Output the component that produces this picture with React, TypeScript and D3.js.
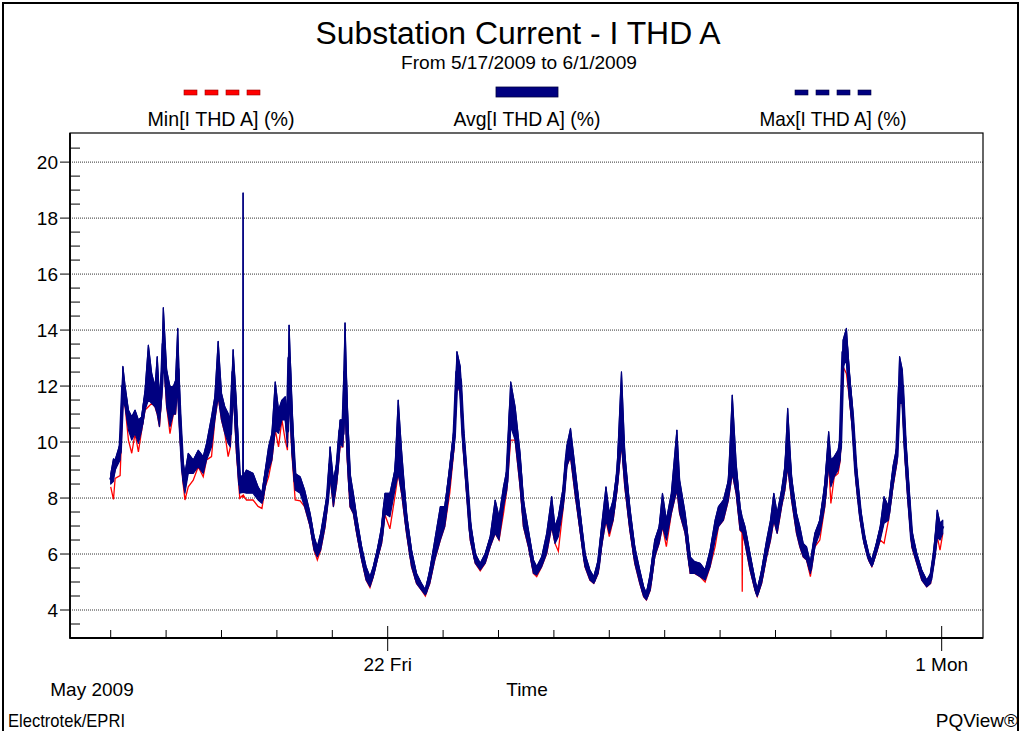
import React, { useEffect, useRef } from "react";
import * as d3 from "d3";

// days since 17 May 2009 00:00
const sampleDays = [
  0.00, 0.05, 0.08, 0.17, 0.22, 0.26, 0.32, 0.38, 0.44, 0.50, 0.56, 0.62,
  0.68, 0.74, 0.80, 0.84, 0.88, 0.92, 0.95, 1.01, 1.07, 1.13, 1.17, 1.21,
  1.25, 1.30, 1.34, 1.40, 1.49, 1.58, 1.67, 1.73, 1.82, 1.88, 1.94, 2.00,
  2.06, 2.12, 2.16, 2.21, 2.27, 2.33, 2.385, 2.39, 2.395, 2.45, 2.57, 2.66,
  2.73, 2.79, 2.85, 2.91, 2.97, 3.03, 3.09, 3.15, 3.19, 3.22, 3.27, 3.33,
  3.42, 3.50, 3.60, 3.67, 3.73, 3.79, 3.87, 3.91, 3.96, 4.02, 4.08, 4.14,
  4.19, 4.23, 4.27, 4.32, 4.38, 4.44, 4.53, 4.61, 4.68, 4.74, 4.81, 4.89,
  4.95, 5.04, 5.13, 5.19, 5.25, 5.34, 5.43, 5.52, 5.61, 5.68, 5.76, 5.85,
  5.95, 6.03, 6.12, 6.20, 6.25, 6.31, 6.36, 6.43, 6.49, 6.58, 6.67, 6.76,
  6.85, 6.94, 7.01, 7.09, 7.15, 7.22, 7.30, 7.39, 7.45, 7.54, 7.63, 7.69,
  7.78, 7.87, 7.96, 8.02, 8.08, 8.17, 8.23, 8.30, 8.38, 8.47, 8.56, 8.65,
  8.72, 8.80, 8.86, 8.94, 9.00, 9.07, 9.14, 9.22, 9.28, 9.37, 9.46, 9.55,
  9.62, 9.67, 9.74, 9.82, 9.90, 9.96, 10.03, 10.12, 10.22, 10.27, 10.37, 10.46,
  10.54, 10.64, 10.73, 10.82, 10.91, 10.97, 11.06, 11.15, 11.22, 11.29, 11.36, 11.395,
  11.40, 11.405, 11.45, 11.54, 11.63, 11.67, 11.75, 11.84, 11.91, 11.97, 12.03, 12.11,
  12.17, 12.22, 12.29, 12.38, 12.44, 12.50, 12.56, 12.63, 12.71, 12.80, 12.89, 12.96,
  13.00, 13.06, 13.13, 13.17, 13.22, 13.28, 13.33, 13.39, 13.45, 13.53, 13.60, 13.68,
  13.74, 13.82, 13.89, 13.96, 14.04, 14.12, 14.19, 14.24, 14.29, 14.34, 14.40, 14.46,
  14.55, 14.64, 14.73, 14.80, 14.86, 14.92, 14.97, 15.02,
];

// Min[I THD A] (%) - lowest red excursions
const minValues = [
  8.40, 7.95, 8.70, 8.80, 11.50, 11.26, 10.07, 9.60, 10.31, 9.65, 10.43, 11.14,
  11.26, 11.38, 11.26, 11.00, 10.55, 11.62, 13.17, 11.26, 10.30, 11.00, 11.00, 11.98,
  10.19, 8.64, 7.93, 8.40, 8.64, 9.12, 8.76, 9.36, 9.48, 10.79, 11.62, 10.79,
  10.31, 9.48, 9.83, 11.98, 9.60, 7.99, 8.10, 8.00, 8.10, 7.93, 7.93, 7.70,
  7.63, 8.40, 8.76, 9.36, 10.43, 9.83, 10.79, 10.07, 9.71, 11.98, 9.60, 7.93,
  7.90, 7.69, 6.98, 6.14, 5.79, 6.14, 6.98, 7.69, 8.76, 7.69, 8.52, 9.83,
  9.83, 11.38, 9.36, 7.69, 7.45, 6.74, 5.79, 5.07, 4.80, 5.19, 5.79, 6.38,
  7.40, 6.90, 8.05, 8.88, 8.17, 6.74, 5.55, 4.95, 4.71, 4.50, 4.95, 5.79,
  6.50, 6.98, 8.17, 9.83, 12.10, 11.74, 9.83, 8.05, 6.50, 5.67, 5.40, 5.67,
  6.26, 6.74, 6.50, 7.45, 8.29, 10.07, 10.07, 8.40, 6.98, 6.26, 5.31, 5.19,
  5.55, 6.02, 6.98, 6.38, 6.10, 7.69, 9.12, 9.48, 8.17, 6.86, 5.55, 5.07,
  4.95, 5.31, 6.26, 7.21, 6.62, 7.21, 8.29, 9.95, 8.40, 6.86, 5.67, 4.95,
  4.48, 4.36, 4.71, 5.90, 6.38, 6.98, 6.26, 7.45, 8.29, 7.45, 6.74, 5.31,
  5.31, 5.19, 5.00, 5.55, 6.26, 6.98, 7.21, 7.93, 8.88, 8.17, 6.86, 6.75,
  4.65, 6.75, 6.38, 5.43, 4.71, 4.48, 4.95, 5.90, 6.50, 7.21, 6.74, 7.69,
  8.29, 9.12, 7.93, 6.74, 6.26, 5.90, 5.79, 5.19, 6.26, 6.50, 7.69, 9.24,
  7.81, 8.76, 8.88, 9.36, 12.69, 12.45, 11.62, 10.43, 8.64, 7.21, 6.38, 5.79,
  5.55, 6.02, 6.50, 6.38, 7.21, 8.40, 9.24, 11.38, 11.38, 9.36, 7.69, 6.26,
  5.67, 5.07, 4.83, 4.95, 5.67, 6.62, 6.14, 6.74,
];

// lower edge of the dark blue Avg trace
const avgLowEnvelope = [
  8.50, 8.60, 9.00, 9.36, 11.50, 11.26, 10.43, 10.07, 10.31, 9.95, 10.43, 11.14,
  11.50, 11.38, 11.26, 11.00, 10.55, 11.62, 13.17, 11.26, 10.55, 11.00, 11.00, 11.98,
  10.19, 8.64, 8.17, 8.88, 8.88, 9.12, 8.88, 9.36, 9.83, 10.79, 11.62, 10.79,
  10.31, 9.95, 9.83, 11.98, 9.60, 8.17, 8.20, 8.20, 8.20, 8.17, 8.17, 7.93,
  7.81, 8.40, 9.00, 9.36, 10.43, 10.31, 10.79, 10.79, 9.83, 11.98, 9.60, 8.29,
  8.17, 7.69, 6.98, 6.14, 5.90, 6.14, 6.98, 7.69, 8.76, 7.69, 8.52, 9.95,
  9.83, 11.38, 9.36, 7.69, 7.45, 6.74, 5.79, 5.07, 4.83, 5.19, 5.79, 6.38,
  7.45, 7.33, 8.29, 8.88, 8.17, 6.74, 5.55, 4.95, 4.71, 4.54, 4.95, 5.79,
  6.50, 6.98, 8.40, 9.83, 12.10, 11.74, 9.83, 8.05, 6.50, 5.67, 5.43, 5.67,
  6.26, 6.74, 6.50, 7.69, 8.29, 10.55, 10.07, 8.40, 6.98, 6.26, 5.31, 5.25,
  5.55, 6.02, 6.98, 6.38, 6.62, 7.69, 9.12, 9.48, 8.17, 6.86, 5.55, 5.07,
  4.95, 5.31, 6.26, 7.21, 6.74, 7.21, 8.29, 9.95, 8.40, 6.86, 5.67, 4.95,
  4.48, 4.36, 4.71, 5.90, 6.38, 6.98, 6.50, 7.45, 8.29, 7.45, 6.74, 5.31,
  5.31, 5.19, 5.07, 5.55, 6.50, 6.98, 7.21, 7.93, 8.88, 8.17, 6.86, 6.80,
  6.80, 6.78, 6.38, 5.43, 4.71, 4.48, 4.95, 5.90, 6.50, 7.21, 6.74, 7.69,
  8.29, 9.12, 7.93, 6.74, 6.26, 5.90, 5.79, 5.31, 6.26, 6.74, 7.69, 9.24,
  8.40, 8.76, 9.00, 9.36, 12.69, 12.93, 11.62, 10.43, 8.64, 7.21, 6.38, 5.79,
  5.55, 6.02, 6.50, 7.10, 7.21, 8.40, 9.24, 11.38, 11.38, 9.36, 7.69, 6.26,
  5.67, 5.07, 4.83, 4.95, 5.67, 6.62, 6.50, 6.74,
];

// Avg[I THD A] (%)
const avgValues = [
  8.65, 8.90, 9.15, 9.65, 12.00, 11.60, 10.80, 10.50, 10.70, 10.40, 10.65, 11.50,
  11.90, 12.00, 11.60, 11.70, 11.10, 12.10, 13.50, 12.00, 11.40, 11.50, 11.60, 12.60,
  10.80, 9.00, 8.55, 9.20, 9.15, 9.40, 9.20, 9.65, 10.30, 11.20, 12.20, 11.20,
  10.80, 10.50, 10.30, 12.50, 10.50, 8.50, 8.50, 8.50, 8.50, 8.60, 8.50, 8.20,
  7.95, 8.70, 9.40, 9.85, 11.00, 10.70, 11.20, 11.30, 10.40, 13.00, 10.50, 8.60,
  8.50, 8.00, 7.20, 6.40, 6.10, 6.45, 7.35, 7.90, 9.20, 8.20, 8.90, 10.40,
  10.30, 12.50, 10.30, 8.30, 7.80, 7.00, 6.00, 5.30, 5.00, 5.35, 5.95, 6.65,
  7.80, 7.80, 8.65, 9.90, 8.95, 7.10, 5.85, 5.10, 4.85, 4.62, 5.20, 6.15,
  7.00, 7.35, 8.80, 10.20, 12.50, 12.20, 10.30, 8.50, 6.85, 5.85, 5.55, 5.85,
  6.45, 7.10, 6.95, 8.00, 8.60, 11.30, 10.60, 9.00, 7.50, 6.55, 5.55, 5.40,
  5.70, 6.40, 7.30, 6.70, 7.00, 8.05, 9.45, 9.95, 8.65, 7.20, 5.80, 5.25,
  5.05, 5.55, 6.60, 7.70, 7.10, 7.55, 8.65, 10.70, 9.00, 7.25, 5.95, 5.20,
  4.65, 4.48, 5.00, 6.20, 6.70, 7.50, 6.85, 7.80, 9.10, 8.05, 7.10, 5.60,
  5.50, 5.45, 5.25, 5.85, 6.85, 7.20, 7.55, 8.30, 9.90, 8.70, 7.30, 7.05,
  7.00, 7.00, 6.70, 5.75, 4.90, 4.60, 5.20, 6.20, 6.85, 7.55, 7.10, 8.00,
  8.70, 9.95, 8.35, 7.10, 6.60, 6.15, 6.00, 5.45, 6.50, 7.00, 8.10, 9.60,
  8.90, 9.10, 9.35, 9.80, 13.20, 13.40, 12.10, 10.85, 9.00, 7.45, 6.55, 5.90,
  5.65, 6.20, 6.75, 7.40, 7.45, 8.75, 9.50, 12.00, 12.00, 9.90, 8.15, 6.55,
  5.85, 5.25, 4.95, 5.10, 5.90, 6.90, 6.80, 7.00,
];

// Max[I THD A] (%)
const maxValues = [
  8.85, 9.40, 9.36, 9.95, 12.70, 12.00, 11.14, 10.90, 11.14, 10.79, 10.90, 11.86,
  13.46, 12.45, 11.98, 13.05, 11.62, 12.57, 14.80, 12.57, 11.98, 11.98, 12.20, 14.06,
  11.38, 9.36, 8.88, 9.60, 9.36, 9.71, 9.48, 9.95, 10.90, 11.62, 13.60, 11.74,
  11.26, 11.02, 10.79, 13.30, 11.38, 8.76, 8.80, 18.90, 8.80, 9.00, 8.88, 8.40,
  8.17, 9.00, 9.83, 10.31, 12.15, 11.14, 11.50, 11.62, 11.02, 14.18, 11.38, 8.88,
  8.76, 8.29, 7.45, 6.62, 6.26, 6.74, 7.69, 8.17, 9.83, 8.64, 9.24, 10.79,
  10.79, 14.26, 11.38, 8.88, 8.17, 7.33, 6.26, 5.55, 5.19, 5.55, 6.14, 6.98,
  8.17, 8.17, 9.00, 11.50, 9.71, 7.45, 6.14, 5.31, 4.95, 4.71, 5.43, 6.50,
  7.69, 7.69, 9.12, 10.55, 13.23, 12.69, 10.67, 8.88, 7.21, 6.02, 5.67, 6.02,
  6.62, 7.93, 7.33, 8.40, 9.00, 12.15, 11.26, 9.60, 7.93, 6.86, 5.79, 5.55,
  5.90, 6.74, 8.05, 6.98, 7.33, 8.40, 9.83, 10.49, 9.12, 7.57, 6.02, 5.43,
  5.19, 5.79, 6.98, 8.40, 7.45, 7.93, 9.00, 12.51, 9.60, 7.69, 6.26, 5.43,
  4.83, 4.60, 5.31, 6.50, 6.98, 8.17, 7.21, 8.17, 10.43, 8.64, 7.45, 5.90,
  5.73, 5.67, 5.43, 6.14, 7.21, 7.69, 7.93, 8.64, 11.68, 9.24, 7.69, 7.35,
  7.30, 7.28, 6.98, 6.02, 5.07, 4.71, 5.43, 6.50, 7.21, 8.17, 7.45, 8.29,
  9.12, 11.20, 8.76, 7.45, 6.98, 6.38, 6.26, 5.67, 6.74, 7.21, 8.52, 10.37,
  9.36, 9.48, 9.71, 10.19, 13.64, 14.06, 12.57, 11.26, 9.36, 7.69, 6.74, 6.02,
  5.79, 6.38, 6.98, 8.05, 7.69, 9.12, 9.83, 13.05, 12.57, 10.43, 8.64, 6.86,
  6.02, 5.43, 5.07, 5.31, 6.14, 7.57, 7.10, 7.21,
];

const yGridValues = [4, 6, 8, 10, 12, 14, 16, 18, 20];
const majorTickDays = [5, 15];
const majorTickLabels = ["22 Fri", "1 Mon"];
const legendLabels = ["Min[I THD A] (%)", "Avg[I THD A] (%)", "Max[I THD A] (%)"];

const NAVY = "#000080";
const RED = "#ff0000";
const FONT = "'Liberation Sans', Arial, sans-serif";

export default function App() {
  const svgRef = useRef<SVGSVGElement>(null);

  useEffect(() => {
    const svg = d3.select(svgRef.current);
    svg.selectAll("*").remove();

    const left = 70, right = 983, top = 133, bottom = 638;
    const start = new Date(2009, 4, 17);
    const toDate = (d: number) => new Date(start.getTime() + d * 864e5);

    const x = d3.scaleTime()
      .domain([new Date(2009, 4, 16, 6, 22), new Date(2009, 5, 1, 17, 54)])
      .range([left, right]);
    const y = d3.scaleLinear().domain([3, 21.04]).range([bottom, top]);

    const rows = sampleDays.map((d, i) => ({
      t: toDate(d),
      min: minValues[i],
      low: avgLowEnvelope[i],
      avg: avgValues[i],
      max: maxValues[i],
    }));

    svg.append("rect").attr("width", 1021).attr("height", 731).attr("fill", "#fff");

    // outer frame
    svg.append("rect")
      .attr("x", 3).attr("y", 3).attr("width", 1015).attr("height", 760)
      .attr("fill", "none").attr("stroke", "#000").attr("stroke-width", 2);

    // title
    svg.append("text")
      .attr("x", 518).attr("y", 44).attr("text-anchor", "middle")
      .attr("font-family", FONT).attr("font-size", 31)
      .attr("textLength", 405).attr("lengthAdjust", "spacingAndGlyphs")
      .text("Substation Current - I THD A");
    svg.append("text")
      .attr("x", 519).attr("y", 69).attr("text-anchor", "middle")
      .attr("font-family", FONT).attr("font-size", 18)
      .attr("textLength", 236).attr("lengthAdjust", "spacingAndGlyphs")
      .text("From 5/17/2009 to 6/1/2009");

    // legend
    const legendCenters = [221, 527, 833];
    [0, 1, 2, 3].forEach(i => {
      svg.append("rect")
        .attr("x", 184 + i * 21).attr("y", 90).attr("width", 13).attr("height", 5)
        .attr("fill", RED).attr("stroke", "#900").attr("stroke-width", 0.6);
      svg.append("rect")
        .attr("x", 795 + i * 21).attr("y", 90).attr("width", 13).attr("height", 5)
        .attr("fill", NAVY).attr("stroke", "#000040").attr("stroke-width", 0.6);
    });
    svg.append("rect")
      .attr("x", 496).attr("y", 87).attr("width", 62).attr("height", 10)
      .attr("fill", NAVY).attr("stroke", "#000040").attr("stroke-width", 0.8);
    legendLabels.forEach((l, i) => {
      svg.append("text")
        .attr("x", legendCenters[i]).attr("y", 126).attr("text-anchor", "middle")
        .attr("font-family", FONT).attr("font-size", 21)
        .attr("textLength", 147).attr("lengthAdjust", "spacingAndGlyphs")
        .text(l);
    });

    // grid
    svg.append("g").selectAll("line")
      .data(yGridValues)
      .enter().append("line")
      .attr("x1", left).attr("x2", right)
      .attr("y1", d => y(d)).attr("y2", d => y(d))
      .attr("stroke", "#333").attr("stroke-width", 1)
      .attr("stroke-dasharray", "1,1");

    // data
    svg.append("clipPath").attr("id", "plotClip")
      .append("rect").attr("x", left).attr("y", top)
      .attr("width", right - left).attr("height", bottom - top);
    const g = svg.append("g").attr("clip-path", "url(#plotClip)");

    const minLine = d3.line<any>().x(r => x(r.t)).y(r => y(r.min));
    const maxLine = d3.line<any>().x(r => x(r.t)).y(r => y(r.max));
    const avgLine = d3.line<any>().x(r => x(r.t)).y(r => y(r.avg));
    const band = d3.area<any>().x(r => x(r.t)).y0(r => y(r.low)).y1(r => y(r.max));

    g.append("path").datum(rows).attr("d", minLine)
      .attr("fill", "none").attr("stroke", RED).attr("stroke-width", 1.3);
    g.append("path").datum(rows).attr("d", band)
      .attr("fill", NAVY).attr("stroke", NAVY).attr("stroke-width", 1.2)
      .attr("stroke-linejoin", "round");
    g.append("path").datum(rows).attr("d", avgLine)
      .attr("fill", "none").attr("stroke", NAVY).attr("stroke-width", 3.5)
      .attr("stroke-linejoin", "round");
    g.append("path").datum(rows).attr("d", maxLine)
      .attr("fill", "none").attr("stroke", NAVY).attr("stroke-width", 1);

    // plot frame
    svg.append("rect")
      .attr("x", left).attr("y", top).attr("width", right - left).attr("height", bottom - top)
      .attr("fill", "none").attr("stroke", "#000").attr("stroke-width", 1.2);
    svg.append("line").attr("x1", left).attr("x2", left).attr("y1", top).attr("y2", bottom + 0.8)
      .attr("stroke", "#000").attr("stroke-width", 1.8);
    svg.append("line").attr("x1", left).attr("x2", right).attr("y1", bottom).attr("y2", bottom)
      .attr("stroke", "#000").attr("stroke-width", 1.8);

    // y ticks
    const yMinor = d3.range(3.5, 21, 0.5).filter(v => !yGridValues.includes(v));
    svg.append("g").selectAll("line").data(yMinor).enter().append("line")
      .attr("x1", left).attr("x2", left + 10)
      .attr("y1", d => y(d)).attr("y2", d => y(d))
      .attr("stroke", "#000").attr("stroke-width", 1);
    svg.append("g").selectAll("line").data(yGridValues).enter().append("line")
      .attr("x1", left - 10).attr("x2", left)
      .attr("y1", d => y(d)).attr("y2", d => y(d))
      .attr("stroke", "#000").attr("stroke-width", 1);
    svg.append("g").selectAll("text").data(yGridValues).enter().append("text")
      .attr("x", left - 12).attr("y", d => y(d) + 7)
      .attr("text-anchor", "end")
      .attr("font-family", FONT).attr("font-size", 19)
      .text(d => String(d));

    // x ticks
    const days = d3.timeDay.range(new Date(2009, 4, 17), new Date(2009, 5, 2));
    const majorDates = majorTickDays.map(d => toDate(d).getTime());
    svg.append("g").selectAll("line")
      .data(days.filter(d => !majorDates.includes(d.getTime())))
      .enter().append("line")
      .attr("x1", d => x(d)).attr("x2", d => x(d))
      .attr("y1", bottom - 8).attr("y2", bottom)
      .attr("stroke", "#000").attr("stroke-width", 1);
    majorTickDays.forEach((d, i) => {
      const px = x(toDate(d));
      svg.append("line")
        .attr("x1", px).attr("x2", px).attr("y1", bottom - 12).attr("y2", bottom + 13)
        .attr("stroke", "#000").attr("stroke-width", 1);
      svg.append("text")
        .attr("x", px).attr("y", 671).attr("text-anchor", "middle")
        .attr("font-family", FONT).attr("font-size", 19)
        .text(majorTickLabels[i]);
    });

    // bottom texts
    svg.append("text")
      .attr("x", 92).attr("y", 696).attr("text-anchor", "middle")
      .attr("font-family", FONT).attr("font-size", 19)
      .text("May 2009");
    svg.append("text")
      .attr("x", 527).attr("y", 696).attr("text-anchor", "middle")
      .attr("font-family", FONT).attr("font-size", 19)
      .text("Time");
    svg.append("text")
      .attr("x", 8).attr("y", 727)
      .attr("font-family", FONT).attr("font-size", 19)
      .attr("textLength", 117).attr("lengthAdjust", "spacingAndGlyphs")
      .text("Electrotek/EPRI");
    svg.append("text")
      .attr("x", 1018).attr("y", 727).attr("text-anchor", "end")
      .attr("font-family", FONT).attr("font-size", 19)
      .text("PQView\u00ae");
  }, []);

  return (
    <div style={{ position: "absolute", left: 0, top: 0 }}>
      <svg ref={svgRef} width={1021} height={731} style={{ display: "block" }}></svg>
    </div>
  );
}
